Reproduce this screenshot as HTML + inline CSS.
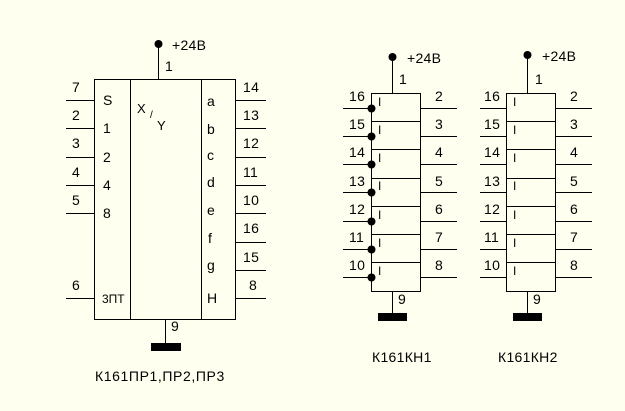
<!DOCTYPE html>
<html><head><meta charset="utf-8"><style>
html,body{margin:0;padding:0;background:#FFFFF0;}
svg{display:block;}
text{font-family:"Liberation Sans",Arial,sans-serif;font-size:14px;letter-spacing:0.3px;fill:#000;}
</style></head><body>
<svg width="625" height="411" viewBox="0 0 625 411" xmlns="http://www.w3.org/2000/svg">
<rect width="625" height="411" fill="#FFFFF0"/>
<g stroke="#000" stroke-width="1" fill="none" shape-rendering="crispEdges">
<rect x="94.5" y="79.5" width="141" height="240"/>
<line x1="130.5" y1="79" x2="130.5" y2="320"/>
<line x1="201.5" y1="79" x2="201.5" y2="320"/>
<line x1="158.5" y1="44" x2="158.5" y2="79"/>
<line x1="165.5" y1="320" x2="165.5" y2="343"/>
<line x1="66" y1="100.5" x2="94" y2="100.5"/>
<line x1="66" y1="128.5" x2="94" y2="128.5"/>
<line x1="66" y1="157.5" x2="94" y2="157.5"/>
<line x1="66" y1="185.5" x2="94" y2="185.5"/>
<line x1="66" y1="213.5" x2="94" y2="213.5"/>
<line x1="66" y1="298.5" x2="94" y2="298.5"/>
<line x1="236" y1="100.5" x2="266" y2="100.5"/>
<line x1="236" y1="128.5" x2="266" y2="128.5"/>
<line x1="236" y1="157.5" x2="266" y2="157.5"/>
<line x1="236" y1="185.5" x2="266" y2="185.5"/>
<line x1="236" y1="213.5" x2="266" y2="213.5"/>
<line x1="236" y1="242.5" x2="266" y2="242.5"/>
<line x1="236" y1="270.5" x2="266" y2="270.5"/>
<line x1="236" y1="298.5" x2="266" y2="298.5"/>
<rect x="371.5" y="93.5" width="49" height="198"/>
<line x1="392.5" y1="57" x2="392.5" y2="93"/>
<line x1="392.5" y1="291" x2="392.5" y2="313"/>
<rect x="506.5" y="93.5" width="49" height="198"/>
<line x1="527.5" y1="55" x2="527.5" y2="93"/>
<line x1="527.5" y1="291" x2="527.5" y2="313"/>
</g>
<g stroke="#000" shape-rendering="crispEdges">
<path d="M371 121.5H421M371 149.5H421M371 178.5H421M371 206.5H421M371 234.5H421M371 262.5H421" />
<path d="M343 108.5H371M343 136.5H371M343 164.5H371M343 192.5H371M343 221.5H371M343 249.5H371M343 277.5H371" />
<path d="M421 108.5H457M421 136.5H457M421 164.5H457M421 192.5H457M421 221.5H457M421 249.5H457M421 277.5H457" />
<path d="M506 121.5H556M506 149.5H556M506 178.5H556M506 206.5H556M506 234.5H556M506 262.5H556" />
<path d="M480 108.5H506M480 136.5H506M480 164.5H506M480 192.5H506M480 221.5H506M480 249.5H506M480 277.5H506" />
<path d="M556 108.5H592M556 136.5H592M556 164.5H592M556 192.5H592M556 221.5H592M556 249.5H592M556 277.5H592" />
</g>
<g fill="#000">
<circle cx="158.5" cy="44" r="4"/>
<circle cx="392.5" cy="57" r="4"/>
<circle cx="527.5" cy="55" r="4"/>
<circle cx="371.5" cy="108.5" r="4"/>
<circle cx="371.5" cy="136.5" r="4"/>
<circle cx="371.5" cy="164.5" r="4"/>
<circle cx="371.5" cy="192.5" r="4"/>
<circle cx="371.5" cy="221.5" r="4"/>
<circle cx="371.5" cy="249.5" r="4"/>
<circle cx="371.5" cy="277.5" r="4"/>
<rect x="151" y="343" width="30" height="8"/>
<rect x="378" y="313" width="29" height="8"/>
<rect x="513" y="313" width="29" height="8"/>
</g>
<text x="172" y="50">+24В</text>
<text x="165" y="71">1</text>
<text x="171" y="331">9</text>
<text x="72" y="92">7</text><text x="72" y="120">2</text><text x="72" y="148">3</text>
<text x="72" y="177">4</text><text x="72" y="205">5</text><text x="72" y="290">6</text>
<text x="103" y="105">S</text><text x="103" y="133">1</text><text x="103" y="162">2</text>
<text x="103" y="190">4</text><text x="103" y="218">8</text>
<text x="102" y="303" style="font-size:12px;letter-spacing:0">3ПТ</text>
<text x="137" y="113" style="font-size:13px">X</text>
<text x="150" y="118" style="font-size:10px">/</text>
<text x="157" y="130" style="font-size:13px">Y</text>
<text x="207" y="106">a</text><text x="207" y="134">b</text><text x="207" y="160">c</text>
<text x="207" y="187">d</text><text x="207" y="215">e</text><text x="208" y="243">f</text>
<text x="207" y="270">g</text><text x="207" y="303">H</text>
<text x="243" y="92">14</text><text x="243" y="120">13</text><text x="243" y="148">12</text>
<text x="243" y="177">11</text><text x="243" y="205">10</text><text x="243" y="233">16</text>
<text x="243" y="262">15</text><text x="249" y="290">8</text>
<text x="95" y="381" style="letter-spacing:0.6px">К161ПР1,ПР2,ПР3</text>
<text x="407" y="63">+24В</text>
<text x="399" y="84">1</text>
<text x="398" y="304">9</text>
<g>
<text x="349" y="101">16</text><text x="349" y="129">15</text><text x="349" y="157">14</text>
<text x="349" y="186">13</text><text x="349" y="214">12</text><text x="349" y="242">11</text><text x="349" y="270">10</text>
<text x="435" y="101">2</text><text x="435" y="129">3</text><text x="435" y="157">4</text>
<text x="435" y="186">5</text><text x="435" y="214">6</text><text x="435" y="242">7</text><text x="435" y="270">8</text>
<text x="378" y="106" style="font-size:12px">I</text><text x="378" y="134" style="font-size:12px">I</text>
<text x="378" y="162" style="font-size:12px">I</text><text x="378" y="190" style="font-size:12px">I</text>
<text x="378" y="219" style="font-size:12px">I</text><text x="378" y="247" style="font-size:12px">I</text>
<text x="378" y="275" style="font-size:12px">I</text>
</g>
<text x="372" y="362">К161КН1</text>
<text x="542" y="61">+24В</text>
<text x="535" y="84">1</text>
<text x="533" y="304">9</text>
<g>
<text x="484" y="101">16</text><text x="484" y="129">15</text><text x="484" y="157">14</text>
<text x="484" y="186">13</text><text x="484" y="214">12</text><text x="484" y="242">11</text><text x="484" y="270">10</text>
<text x="570" y="101">2</text><text x="570" y="129">3</text><text x="570" y="157">4</text>
<text x="570" y="186">5</text><text x="570" y="214">6</text><text x="570" y="242">7</text><text x="570" y="270">8</text>
<text x="513" y="106" style="font-size:12px">I</text><text x="513" y="134" style="font-size:12px">I</text>
<text x="513" y="162" style="font-size:12px">I</text><text x="513" y="190" style="font-size:12px">I</text>
<text x="513" y="219" style="font-size:12px">I</text><text x="513" y="247" style="font-size:12px">I</text>
<text x="513" y="275" style="font-size:12px">I</text>
</g>
<text x="498" y="362">К161КН2</text>
</svg>
</body></html>
